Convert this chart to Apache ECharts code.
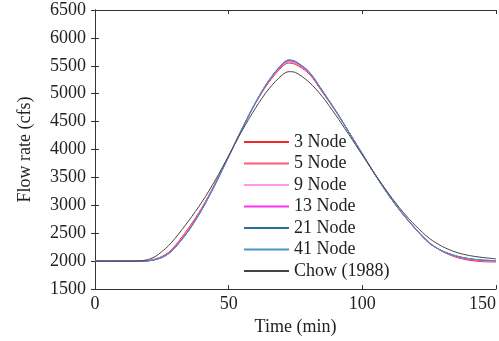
<!DOCTYPE html>
<html><head><meta charset="utf-8">
<script src="https://cdn.jsdelivr.net/npm/echarts@6/dist/echarts.min.js"></script>
<style>html,body{margin:0;padding:0;background:#fff}#c{width:499px;height:341px}</style>
</head><body><div id="c"></div>
<script>
var times  = [0,5,10,15,17.5,20,22.5,25,27.5,30,35,40,45,50,55,60,65,70,72.5,75,80,85,90,95,100,105,110,115,120,125,130,135,140,145,150];
var node3  = [2000,2000,2000,2000,2000,2010,2036,2082,2156,2278,2593,2958,3400,3882,4370,4825,5202,5484,5550,5525,5360,5030,4685,4310,3925,3537,3177,2858,2580,2335,2170,2070,2015,1990,1984];
var node5  = [2000,2000,2000,2000,2000,2008,2032,2075,2148,2265,2575,2945,3392,3878,4370,4830,5215,5500,5568,5542,5372,5040,4690,4310,3923,3534,3174,2854,2575,2330,2175,2080,2027,2000,1993];
var node9  = [2000,2000,2000,2000,2000,2006,2028,2068,2139,2253,2557,2933,3384,3874,4370,4835,5227,5517,5584,5559,5385,5051,4696,4310,3921,3531,3171,2851,2571,2325,2179,2088,2036,2010,2002];
var node13 = [2000,2000,2000,2000,2000,2006,2027,2067,2137,2250,2553,2930,3382,3873,4370,4836,5230,5521,5590,5564,5388,5053,4697,4310,3921,3531,3171,2851,2571,2324,2180,2090,2038,2012,2004];
var node21 = [2000,2000,2000,2000,2000,2005,2026,2064,2132,2244,2545,2924,3378,3871,4370,4838,5236,5529,5600,5573,5395,5057,4699,4310,3920,3530,3170,2850,2570,2322,2182,2094,2043,2018,2008];
var node41 = [2000,2000,2000,2000,2000,2005,2025,2062,2130,2240,2540,2920,3375,3870,4370,4840,5240,5535,5608,5580,5400,5060,4700,4310,3920,3530,3170,2850,2570,2320,2180,2095,2045,2020,2010];
var chow   = [2000,2000,2000,2000,2005,2030,2080,2170,2275,2410,2720,3060,3450,3890,4335,4740,5085,5335,5395,5380,5210,4950,4620,4265,3900,3540,3200,2890,2630,2410,2260,2160,2100,2065,2040];
var seriesNames = ['3 Node','5 Node','9 Node','13 Node','21 Node','41 Node','Chow (1988)'];
var seriesData = [node3,node5,node9,node13,node21,node41,chow];
var colors = ['#f02828','#ff5c7c','#ff99f0','#ff33ee','#2c6e9e','#4a96c8','#444444'];
var xTicks = {min:0,max:150,interval:50};
var yTicks = {min:1500,max:6500,interval:500};

var font = 'Liberation Serif';
var chart = echarts.init(document.getElementById('c'), null, {renderer:'canvas'});
var axisLine = {show:true, lineStyle:{color:'#333', width:1}};
var series = seriesNames.map(function(n,i){
  return {name:n, type:'line', xAxisIndex:0, yAxisIndex:0, symbol:'none', smooth:0.3,
    lineStyle:{color:colors[i], width:1}, itemStyle:{color:colors[i]},
    data: times.map(function(t,j){return [t, seriesData[i][j]];})};
});
function plain(v){ return '{s|' + v + '}'; }
var rich = {s:{fontFamily:font, fontSize:18, color:'#222'}};
chart.setOption({
  animation:false,
  backgroundColor:'#fff',
  textStyle:{fontFamily:font},
  grid:{left:95, top:10, right:0, bottom:50},
  legend:{orient:'vertical', left:244, top:133, padding:0,
    icon:'rect', itemWidth:45, itemHeight:2, itemGap:3.5,
    textStyle:{fontFamily:font, fontSize:18, color:'#222', lineHeight:18},
    data:seriesNames},
  xAxis:[{type:'value', min:xTicks.min, max:xTicks.max, interval:xTicks.interval, position:'bottom',
    name:'Time (min)', nameLocation:'middle', nameGap:29,
    nameTextStyle:{fontFamily:font, fontSize:18, color:'#222'},
    axisLine:axisLine, axisTick:{show:true, inside:true, length:4, lineStyle:{color:'#333'}},
    axisLabel:{fontFamily:font, fontSize:18, color:'#222', margin:6, alignMaxLabel:'right', formatter:plain, rich:rich},
    splitLine:{show:false}},
   {type:'value', min:xTicks.min, max:xTicks.max, interval:xTicks.interval, position:'top',
    axisLine:axisLine, axisTick:{show:true, inside:true, length:4, lineStyle:{color:'#333'}},
    axisLabel:{show:false}, splitLine:{show:false}}],
  yAxis:[{type:'value', min:yTicks.min, max:yTicks.max, interval:yTicks.interval, position:'left',
    name:'Flow rate (cfs)', nameLocation:'middle', nameGap:61,
    nameTextStyle:{fontFamily:font, fontSize:18, color:'#222'},
    axisLine:axisLine, axisTick:{show:true, inside:true, length:4, lineStyle:{color:'#333'}},
    axisLabel:{fontFamily:font, fontSize:18, color:'#222', margin:9, formatter:plain, rich:rich},
    splitLine:{show:false}},
   {type:'value', min:yTicks.min, max:yTicks.max, interval:yTicks.interval, position:'right',
    axisLine:axisLine, axisTick:{show:true, inside:true, length:4, lineStyle:{color:'#333'}},
    axisLabel:{show:false}, splitLine:{show:false}}],
  series:series
});
</script></body></html>
